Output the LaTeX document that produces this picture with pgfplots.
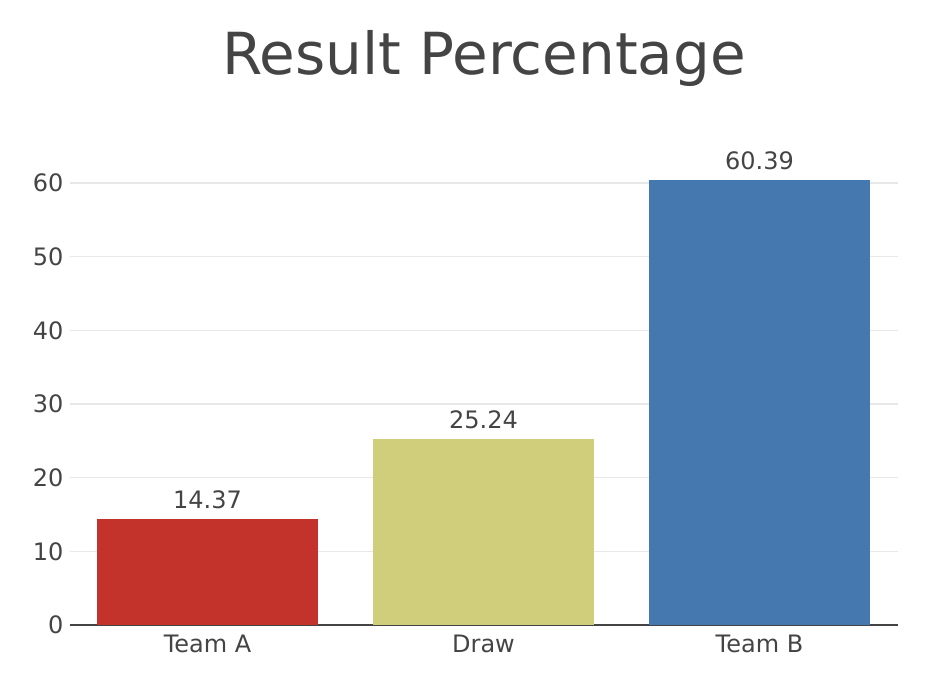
\documentclass[border=0pt]{standalone}
\usepackage{fontspec}
\setmainfont{DejaVu Sans}
\usepackage{pgfplots}
\pgfplotsset{compat=1.18}
\definecolor{txt}{HTML}{444444}
\definecolor{gridc}{HTML}{E8E8E8}
\definecolor{cA}{HTML}{C3322B}
\definecolor{cD}{HTML}{D0CE7B}
\definecolor{cB}{HTML}{4478AE}
\begin{document}
\begin{tikzpicture}
\useasboundingbox (0,0) rectangle (950pt,698pt);
\node[anchor=base, text=txt, inner sep=0pt, font=\fontsize{58}{64}\selectfont] at (484pt,623pt) {Result Percentage};
\begin{axis}[
  at={(69.5pt,73pt)}, anchor=south west,
  scale only axis, width=828pt, height=471.5pt,
  xmin=-0.5, xmax=2.5, ymin=0, ymax=64,
  xtick={0,1,2}, xticklabels={Team A, Draw, Team B},
  ytick={0,10,20,30,40,50,60},
  axis x line=bottom, axis y line=left,
  axis line style={-, draw=txt, line width=1.3pt},
  y axis line style={draw=none},
  major tick length=0pt,
  ymajorgrids, grid style={color=gridc, line width=1.2pt},
  tick label style={text=txt, inner sep=0pt, font=\fontsize{24}{28}\selectfont},
  yticklabel style={xshift=-6pt},
  xticklabel style={yshift=-10pt},
  /pgf/number format/assume math mode=true,
  clip=false,
  ybar, bar width=221pt, bar shift=0pt,
  nodes near coords,
  nodes near coords style={anchor=base, yshift=11pt, text=txt, inner sep=0pt, font=\fontsize{24}{28}\selectfont, /pgf/number format/fixed, /pgf/number format/precision=2, /pgf/number format/fixed zerofill},
]
\addplot[fill=cA, draw=none] coordinates {(0,14.37)};
\addplot[fill=cD, draw=none] coordinates {(1,25.24)};
\addplot[fill=cB, draw=none] coordinates {(2,60.39)};
\end{axis}
\end{tikzpicture}
\end{document}
